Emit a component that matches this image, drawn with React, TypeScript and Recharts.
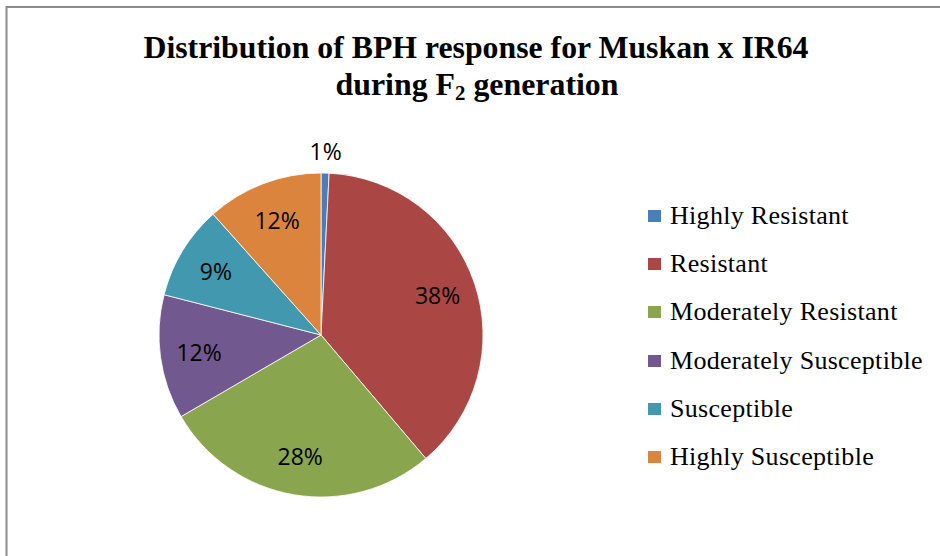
import { PieChart, Pie, Cell, Legend } from 'recharts';

const categories = [
  'Highly Resistant',
  'Resistant',
  'Moderately Resistant',
  'Moderately Susceptible',
  'Susceptible',
  'Highly Susceptible',
];
const shares = [0.8, 38.0, 27.8, 12.4, 9.4, 11.6];
const colors = ['#4A7EBB', '#AA4643', '#89A54E', '#71588F', '#4198AF', '#DB843D'];

const titleLine1 = 'Distribution of BPH response for Muskan x IR64';

const data = categories.map((name, i) => ({ name, value: shares[i] }));

const RADIAN = Math.PI / 180;

const renderLabel = (props: any) => {
  const { cx, cy, midAngle, outerRadius, percent } = props;
  // tiny slices get their label outside, like Excel's best fit
  const r = percent < 0.03 ? outerRadius + 22 : outerRadius * 0.76;
  const x = cx + r * Math.cos(-midAngle * RADIAN);
  const y = cy + r * Math.sin(-midAngle * RADIAN);
  return (
    <text
      x={x}
      y={y}
      textAnchor="middle"
      dominantBaseline="central"
      fill="#000"
      fontFamily="'Open Sans', sans-serif"
      fontSize={23}
    >
      {`${Math.round(percent * 100)}%`}
    </text>
  );
};

// legend drawn in data order (recharts sorts its payload by name)
const renderLegend = () => (
  <div>
    {categories.map((name, i) => (
      <div key={name} style={{ height: 48.2, display: 'flex', alignItems: 'center' }}>
        <span style={{ width: 13, height: 12, background: colors[i], display: 'inline-block', marginRight: 9 }} />
        <span style={{ fontFamily: "'Liberation Serif', 'Times New Roman', serif", fontSize: 26, color: '#000', letterSpacing: 0.3 }}>
          {name}
        </span>
      </div>
    ))}
  </div>
);

export default function App() {
  return (
    <div style={{ position: 'absolute', left: 0, top: 0, width: 940, height: 556, background: '#fff', overflow: 'hidden' }}>
      <svg width={940} height={556} style={{ position: 'absolute', left: 0, top: 0 }}>
        <rect x={6.5} y={7} width={1000} height={1000} fill="none" stroke="#8c8c8c" strokeWidth={2} />
        <text
          x={476}
          y={58}
          textAnchor="middle"
          fontFamily="'Liberation Serif', 'Times New Roman', serif"
          fontWeight="bold"
          fontSize={32}
          textLength={665}
          lengthAdjust="spacingAndGlyphs"
        >
          {titleLine1}
        </text>
        <text
          x={477}
          y={95}
          textAnchor="middle"
          fontFamily="'Liberation Serif', 'Times New Roman', serif"
          fontWeight="bold"
          fontSize={32}
          textLength={283}
          lengthAdjust="spacingAndGlyphs"
        >
          during F<tspan fontSize={21} dy={5}>2</tspan><tspan dy={-5}> generation</tspan>
        </text>
      </svg>
      <div style={{ position: 'absolute', left: 0, top: 0 }}>
        <PieChart width={940} height={556} margin={{ top: 0, right: 0, bottom: 0, left: 0 }}>
          <Pie
            data={data}
            dataKey="value"
            nameKey="name"
            cx={321}
            cy={335}
            outerRadius={162}
            startAngle={90}
            endAngle={-270}
            stroke="#ffffff"
            strokeWidth={0.8}
            label={renderLabel}
            labelLine={false}
            isAnimationActive={false}
          >
            {data.map((d, i) => (
              <Cell key={d.name} fill={colors[i]} />
            ))}
          </Pie>
          <Legend
            layout="vertical"
            align="right"
            verticalAlign="top"
            content={renderLegend}
            wrapperStyle={{ left: 648, top: 192, width: 290 }}
          />
        </PieChart>
      </div>
    </div>
  );
}
